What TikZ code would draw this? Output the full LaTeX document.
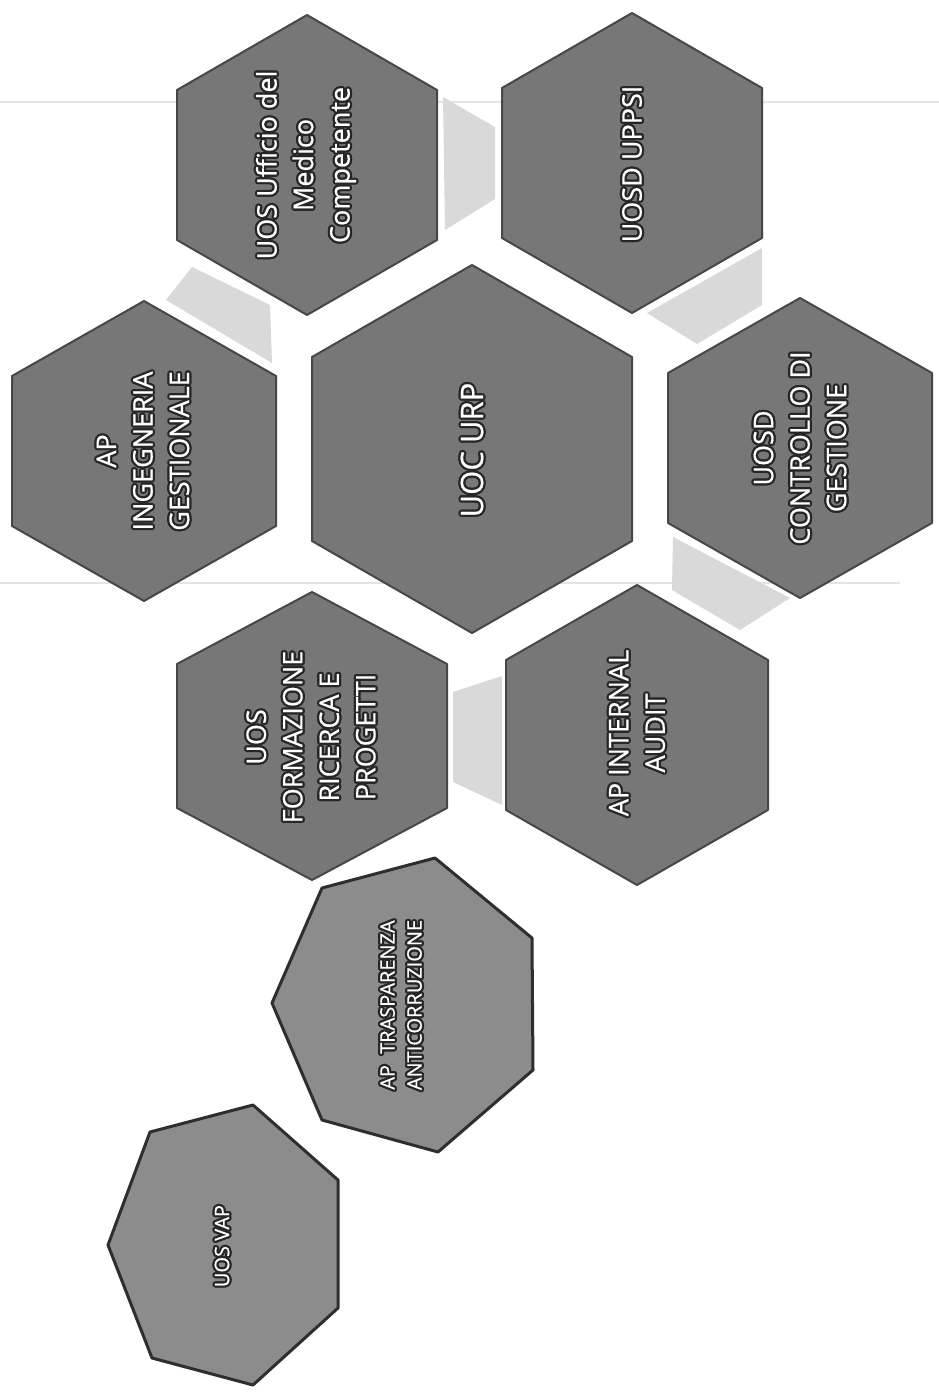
\documentclass[tikz,border=0pt]{standalone}
\usepackage{fontspec}
\setmainfont{Open Sans}
\newfontfamily\lblfont[FakeBold=0.6]{Open Sans}
\definecolor{hexfill}{HTML}{777777}
\definecolor{hexedge}{HTML}{474747}
\definecolor{hepfill}{HTML}{8C8C8C}
\definecolor{hepedge}{HTML}{2E2E2E}
\definecolor{gapfill}{HTML}{D9D9D9}
\definecolor{halo}{HTML}{262626}
\definecolor{scanline}{HTML}{E4E4E4}
\tikzset{
  hexa/.style={fill=hexfill, draw=hexedge, line width=2pt, line join=round},
  hepta/.style={fill=hepfill, draw=hepedge, line width=3pt, line join=round},
  gapshape/.style={fill=gapfill, draw=none},
  lbl/.style={text=white, align=center, inner sep=0pt, font=\lblfont\fontsize{27}{36.5}\selectfont},
  lblbig/.style={lbl, font=\lblfont\fontsize{31}{40}\selectfont},
  lblsmall/.style={lbl, font=\lblfont\fontsize{20}{27}\selectfont},
}
% #1 style, #2 cx, #3 cy, #4 half width, #5 half height
\newcommand\hexshape[5]{%
  \draw[#1] (#2,#3-#5) -- (#2+#4,#3-#5/2) -- (#2+#4,#3+#5/2) -- (#2,#3+#5)
    -- (#2-#4,#3+#5/2) -- (#2-#4,#3-#5/2) -- cycle;}
% #1 style, #2 name, #3 x, #4 y, #5 text
\newcommand\halolabel[5]{%
  \foreach \a in {0,30,...,330} {
    \node[#1, text=halo, rotate=90] at ([shift={(\a:2.2)}] #3,#4) {#5};
  }
  \node[#1, rotate=90] (#2) at (#3,#4) {#5};}
\begin{document}
\begin{tikzpicture}[x=1pt,y=-1pt]
\useasboundingbox (0,0) rectangle (939,1394);
\fill[white] (0,0) rectangle (939,1394);
% faint scan rules
\draw[scanline, line width=1.5pt] (0,102) -- (939,102);
\draw[scanline, line width=1.5pt] (0,583) -- (900,583);
% light gap shapes
\fill[gapshape] (443,97) -- (495,127) -- (495,199) -- (445,230) -- cycle;
\fill[gapshape] (166,300) -- (192,267) -- (270,305) -- (272,363) -- cycle;
\fill[gapshape] (762,248) -- (762,305) -- (697,344) -- (647,313) -- cycle;
\fill[gapshape] (673,537) -- (790,598) -- (740,630) -- (672,590) -- cycle;
\fill[gapshape] (453,692) -- (502,676) -- (502,805) -- (453,782) -- cycle;
% hexagons
\hexshape{hexa}{307}{165}{130}{150}
\hexshape{hexa}{632}{163}{130}{150}
\hexshape{hexa}{144}{451}{132}{150}
\hexshape{hexa}{472}{449}{160}{184}
\hexshape{hexa}{800}{448}{132}{150}
\hexshape{hexa}{312}{736}{135}{144}
\hexshape{hexa}{637}{735}{131}{150}
% heptagons
\draw[hepta] (322,888) -- (435,858) -- (532,938) -- (533,1070) -- (438,1152)
  -- (322,1120) -- (272,1003) -- cycle;
\draw[hepta] (150,1132) -- (253,1105) -- (338,1180) -- (338,1308) -- (253,1385)
  -- (152,1358) -- (108,1245) -- cycle;
% labels
\halolabel{lbl}{medico}{306}{165}{UOS Ufficio del\\Medico\\Competente}
\halolabel{lbl}{uppsi}{632}{164}{UOSD UPPSI}
\halolabel{lbl}{ingegneria}{143}{451}{AP\\INGEGNERIA\\GESTIONALE}
\halolabel{lblbig}{urp}{472}{450}{UOC URP}
\halolabel{lbl}{controllo}{800}{448}{UOSD\\CONTROLLO DI\\GESTIONE}
\halolabel{lbl}{formazione}{311}{737}{UOS\\FORMAZIONE\\RICERCA E\\PROGETTI}
\halolabel{lbl}{audit}{637}{733}{AP INTERNAL\\AUDIT}
\halolabel{lblsmall}{trasparenza}{401}{1005}{AP\hspace{0.3em} TRASPARENZA\\ANTICORRUZIONE}
\halolabel{lblsmall}{vap}{222}{1246}{UOS VAP}
\end{tikzpicture}
\end{document}
